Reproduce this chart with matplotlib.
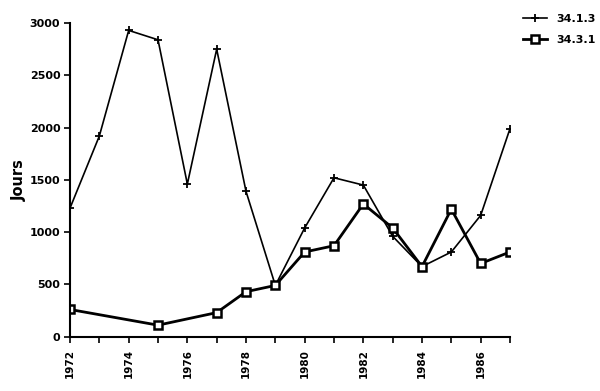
import matplotlib.pyplot as plt
import numpy as np

# data
years_a = [1972, 1973, 1974, 1975, 1976, 1977, 1978, 1979, 1980, 1981,
           1982, 1983, 1984, 1985, 1986, 1987]
jours_a = [1230, 1920, 2930, 2840, 1460, 2750, 1390, 490, 1040, 1520,
           1450, 960, 670, 810, 1160, 1990]

years_b = [1972, 1975, 1977, 1978, 1979, 1980, 1981, 1982, 1983, 1984,
           1985, 1986, 1987]
jours_b = [260, 110, 230, 430, 490, 810, 870, 1270, 1040, 670,
           1220, 700, 810]

labels = ['34.1.3', '34.3.1']

plt.rcParams['font.family'] = 'DejaVu Sans'
plt.rcParams['font.weight'] = 'bold'

fig = plt.figure(figsize=(6, 3.91), dpi=100)
ax = fig.add_axes([0.1167, 0.139, 0.7333, 0.802])

la, = ax.plot(years_a, jours_a, color='black', lw=1.2, marker='+',
              ms=6, mew=1.3, label=labels[0])
lb, = ax.plot(years_b, jours_b, color='black', lw=2.0, marker='s',
              ms=5.5, mew=1.8, mfc='white', label=labels[1])

ax.set_xlim(1972, 1987)
ax.set_ylim(0, 3000)
ax.set_xticks(np.arange(1972, 1988))
ax.set_xticklabels([str(y) if y % 2 == 0 and y < 1987 else '' for y in range(1972, 1988)],
                   rotation=90, fontsize=7.5, fontweight='bold')
ax.set_yticks(np.arange(0, 3001, 500))
ax.set_yticklabels([str(v) for v in range(0, 3001, 500)], fontsize=8, fontweight='bold')
ax.tick_params(direction='out', length=4, width=1.2, pad=3)
ax.tick_params(axis='x', pad=5)

for s in ['top', 'right']:
    ax.spines[s].set_visible(False)
for s in ['left', 'bottom']:
    ax.spines[s].set_linewidth(1.5)

ax.set_ylabel('Jours', fontsize=10.5, fontweight='bold', labelpad=2)

fig.legend(handles=[la, lb], labels=labels, loc='upper left',
           bbox_to_anchor=(0.855, 0.99), frameon=False, fontsize=8,
           handlelength=2.2, handletextpad=0.8, labelspacing=1.0)

fig.savefig('out.png', dpi=100)
